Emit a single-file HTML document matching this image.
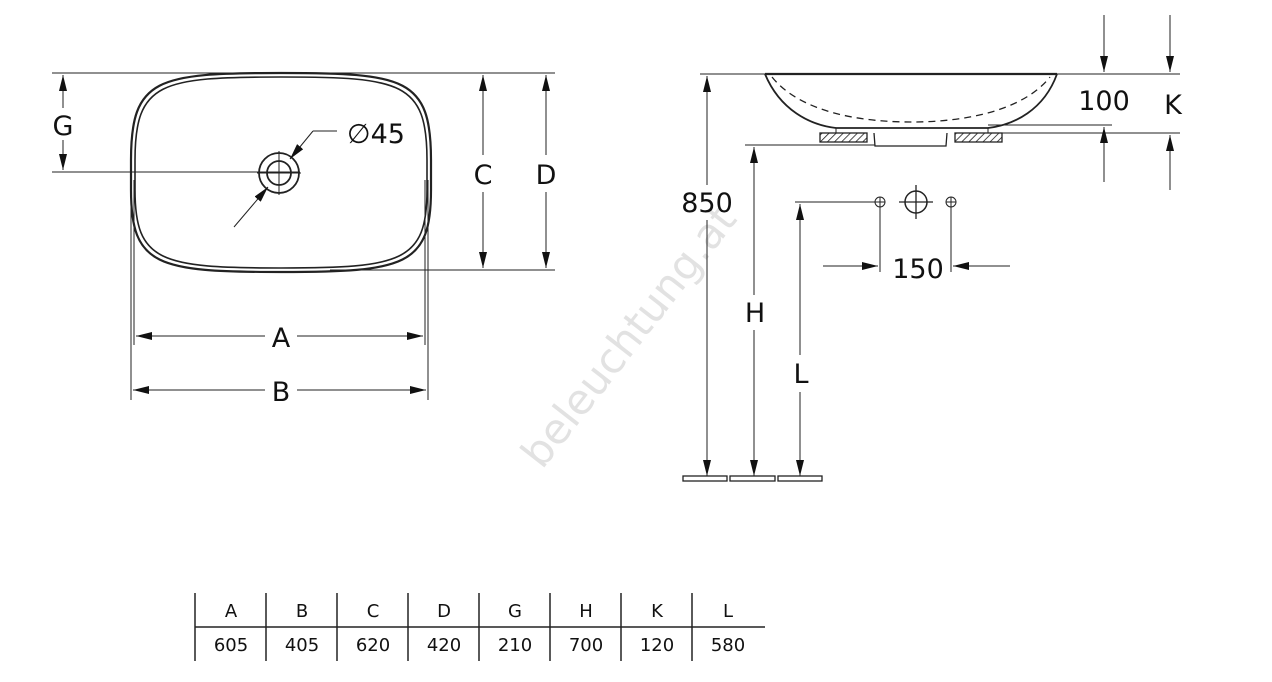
<!DOCTYPE html>
<html><head><meta charset="utf-8"><style>
html,body{margin:0;padding:0;background:#fff;}
svg{display:block;}
text{font-family:"DejaVu Sans","Liberation Sans",sans-serif;fill:#111;}
</style></head><body>
<svg width="1272" height="682" viewBox="0 0 1272 682" xmlns="http://www.w3.org/2000/svg">
<defs>
<marker id="ar" viewBox="0 0 10 10" refX="10" refY="5" markerWidth="16" markerHeight="8" markerUnits="userSpaceOnUse" preserveAspectRatio="none" orient="auto-start-reverse"><path d="M0,0 L10,5 L0,10 z" fill="#111"/></marker>
<pattern id="hatch" width="5" height="5" patternUnits="userSpaceOnUse" patternTransform="rotate(45)"><line x1="0" y1="0" x2="0" y2="5" stroke="#111" stroke-width="1.5"/></pattern>
</defs>
<text x="640" y="345" font-size="42" style="fill:#e2e2e2" transform="rotate(-52 640 345)" text-anchor="middle" font-family="Liberation Sans">beleuchtung.at</text>

<g stroke="#222" stroke-width="1" fill="none">
<line x1="52" y1="73" x2="555" y2="73"/>
<line x1="52" y1="172" x2="300" y2="172"/>
<line x1="330" y1="270" x2="555" y2="270"/>
<line x1="134" y1="180" x2="134" y2="345"/>
<line x1="425" y1="180" x2="425" y2="345"/>
<line x1="131" y1="180" x2="131" y2="400"/>
<line x1="428" y1="180" x2="428" y2="400"/>
<path d="M281,73 C405,73 431,78 431,160 L431,190 C431,266 405,272 281,272 C157,272 131,266 131,190 L131,160 C131,78 157,73 281,73 z" stroke-width="2.2"/>
<path d="M281,77 C401,77 427,82 427,160 L427,190 C427,262 401,268 281,268 C161,268 135,262 135,190 L135,160 C135,82 161,77 281,77 z" stroke-width="1.6"/>
<circle cx="279" cy="173" r="20" stroke-width="1.8"/>
<circle cx="279" cy="173" r="12" stroke-width="1.8"/>
<line x1="279" y1="151" x2="279" y2="195"/>
<line x1="257" y1="173" x2="301" y2="173"/>
<line x1="234" y1="227" x2="268" y2="187" marker-end="url(#ar)"/>
<line x1="313" y1="131" x2="290" y2="159" marker-end="url(#ar)"/>
<line x1="313" y1="131" x2="337" y2="131"/>
<line x1="63" y1="108" x2="63" y2="75" marker-end="url(#ar)"/>
<line x1="63" y1="140" x2="63" y2="170" marker-end="url(#ar)"/>
<line x1="483" y1="155" x2="483" y2="75" marker-end="url(#ar)"/>
<line x1="483" y1="192" x2="483" y2="268" marker-end="url(#ar)"/>
<line x1="546" y1="155" x2="546" y2="75" marker-end="url(#ar)"/>
<line x1="546" y1="192" x2="546" y2="268" marker-end="url(#ar)"/>
<line x1="265" y1="336" x2="136" y2="336" marker-end="url(#ar)"/>
<line x1="297" y1="336" x2="423" y2="336" marker-end="url(#ar)"/>
<line x1="265" y1="390" x2="133" y2="390" marker-end="url(#ar)"/>
<line x1="297" y1="390" x2="426" y2="390" marker-end="url(#ar)"/>

<line x1="700" y1="74" x2="1180" y2="74"/>
<line x1="988" y1="125" x2="1112" y2="125"/>
<line x1="988" y1="133" x2="1180" y2="133"/>
<line x1="745" y1="145" x2="875" y2="145"/>
<path d="M765,74 L1057,74" stroke-width="2.2"/>
<path d="M765,74 C780,110 810,125 836,128 L988,128 C1014,125 1044,110 1057,74" stroke-width="1.8"/>
<path d="M772,77 C800,112 860,122 911,122 C962,122 1022,112 1050,77" stroke-dasharray="7,5" stroke-width="1.3"/>
<line x1="836" y1="128" x2="836" y2="133"/>
<line x1="988" y1="128" x2="988" y2="133"/>
<rect x="820" y="133" width="47" height="9" fill="url(#hatch)" stroke-width="1.3"/>
<rect x="955" y="133" width="47" height="9" fill="url(#hatch)" stroke-width="1.3"/>
<path d="M874,133 L875,146 L946,146 L947,133" stroke-width="1.3"/>
<line x1="707" y1="185" x2="707" y2="76" marker-end="url(#ar)"/>
<line x1="707" y1="220" x2="707" y2="476" marker-end="url(#ar)"/>
<line x1="754" y1="295" x2="754" y2="147" marker-end="url(#ar)"/>
<line x1="754" y1="330" x2="754" y2="476" marker-end="url(#ar)"/>
<line x1="800" y1="355" x2="800" y2="204" marker-end="url(#ar)"/>
<line x1="800" y1="392" x2="800" y2="476" marker-end="url(#ar)"/>
<line x1="795" y1="202" x2="875" y2="202"/>
<rect x="683" y="476" width="44" height="5" stroke-width="1.3"/>
<rect x="730" y="476" width="45" height="5" stroke-width="1.3"/>
<rect x="778" y="476" width="44" height="5" stroke-width="1.3"/>
<circle cx="880" cy="202" r="5"/><line x1="875" y1="202" x2="885" y2="202"/><line x1="880" y1="197" x2="880" y2="272"/>
<circle cx="951" cy="202" r="5"/><line x1="946" y1="202" x2="956" y2="202"/><line x1="951" y1="197" x2="951" y2="272"/>
<circle cx="916" cy="202" r="11" stroke-width="1.5"/>
<line x1="899" y1="202" x2="933" y2="202" stroke-width="1.3"/><line x1="916" y1="185" x2="916" y2="219" stroke-width="1.3"/>
<line x1="823" y1="266" x2="878" y2="266" marker-end="url(#ar)"/>
<line x1="1010" y1="266" x2="953" y2="266" marker-end="url(#ar)"/>
<line x1="1104" y1="15" x2="1104" y2="72" marker-end="url(#ar)"/>
<line x1="1104" y1="182" x2="1104" y2="127" marker-end="url(#ar)"/>
<line x1="1170" y1="15" x2="1170" y2="72" marker-end="url(#ar)"/>
<line x1="1170" y1="190" x2="1170" y2="135" marker-end="url(#ar)"/>
<line x1="195" y1="627" x2="765" y2="627" stroke-width="1.5"/>
<g stroke-width="1.5">
<line x1="195" y1="593" x2="195" y2="661"/><line x1="266" y1="593" x2="266" y2="661"/>
<line x1="337" y1="593" x2="337" y2="661"/><line x1="408" y1="593" x2="408" y2="661"/>
<line x1="479" y1="593" x2="479" y2="661"/><line x1="550" y1="593" x2="550" y2="661"/>
<line x1="621" y1="593" x2="621" y2="661"/><line x1="692" y1="593" x2="692" y2="661"/>
</g>
</g>

<g font-size="27" text-anchor="middle">
<text x="63" y="135">G</text>
<text x="483" y="184">C</text>
<text x="546" y="184">D</text>
<text x="281" y="347">A</text>
<text x="281" y="401">B</text>
<text x="376" y="143">∅45</text>
<text x="707" y="212">850</text>
<text x="755" y="322">H</text>
<text x="801" y="383">L</text>
<text x="918" y="278">150</text>
<text x="1104" y="110">100</text>
<text x="1173" y="114">K</text>
</g>
<g font-size="18" text-anchor="middle">
<text x="231" y="617">A</text><text x="302" y="617">B</text><text x="373" y="617">C</text><text x="444" y="617">D</text>
<text x="515" y="617">G</text><text x="586" y="617">H</text><text x="657" y="617">K</text><text x="728" y="617">L</text>
<text x="231" y="651">605</text><text x="302" y="651">405</text><text x="373" y="651">620</text><text x="444" y="651">420</text>
<text x="515" y="651">210</text><text x="586" y="651">700</text><text x="657" y="651">120</text><text x="728" y="651">580</text>
</g>
</svg>
</body></html>
